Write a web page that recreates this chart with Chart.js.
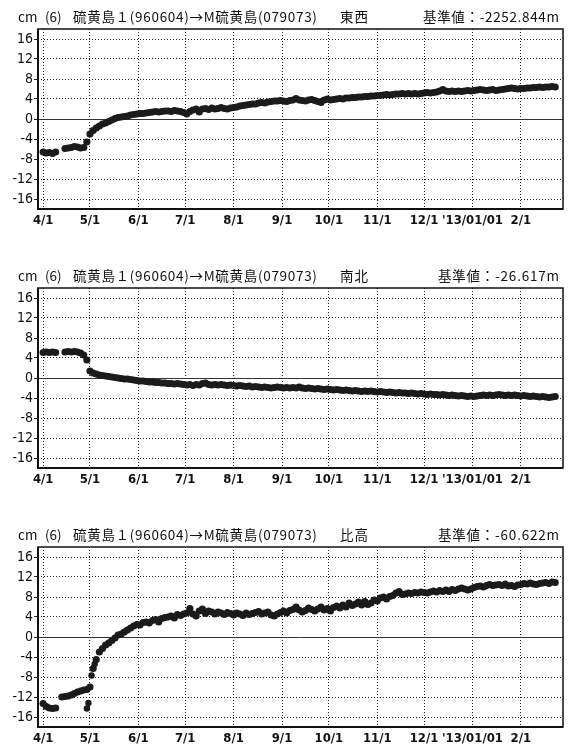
<!DOCTYPE html>
<html>
<head>
<meta charset="utf-8">
<script src="https://cdn.jsdelivr.net/npm/chart.js@4.4.1/dist/chart.umd.min.js"></script>
<style>
  html, body { margin: 0; padding: 0; background: #fff; overflow: hidden; }
  canvas { display: block; }
</style>
</head>
<body>
<canvas id="c1" width="571" height="259"></canvas>
<canvas id="c2" width="571" height="259"></canvas>
<canvas id="c3" width="571" height="259"></canvas>
<script>
// ==================== DATA ====================
// x = days since 2012/4/1, values read every 2nd day
const sampleDays = Array.from({ length: 165 }, (_, i) => i * 2);

const monthDays = [0, 30, 61, 91, 122, 153, 183, 214, 244, 275, 306];
const monthLabels = ['4/1', '5/1', '6/1', '7/1', '8/1', '9/1', '10/1', '11/1', '12/1', "'13/01/01", '2/1'];
const yTicks = [-16, -12, -8, -4, 0, 4, 8, 12, 16];

const stationLabel = '硫黄島１(960604)→M硫黄島(079073)';

// 東西 (east-west), cm
const eastWest = [
  -6.6, -6.8, -6.7, -6.9, -6.6, null, null, -5.9, -5.8, -5.7,
  -5.5, -5.6, -5.8, -5.7, -4.6, -3.0, -2.3, -1.8, -1.4, -1.0,
  -0.8, -0.5, -0.2, 0.1, 0.3, 0.4, 0.5, 0.6, 0.8, 0.9,
  1.0, 1.1, 1.1, 1.2, 1.3, 1.4, 1.5, 1.4, 1.5, 1.6,
  1.6, 1.5, 1.7, 1.6, 1.5, 1.3, 1.0, 1.5, 1.8, 2.0,
  1.4, 2.0, 2.1, 1.9, 2.2, 2.0, 2.1, 2.3, 2.1, 2.0,
  2.2, 2.3, 2.4, 2.6, 2.7, 2.8, 2.9, 3.0, 3.0, 3.2,
  3.3, 3.2, 3.4, 3.5, 3.6, 3.6, 3.7, 3.6, 3.5, 3.7,
  3.8, 4.1, 3.8, 3.7, 3.6, 3.8, 3.9, 3.7, 3.5, 3.3,
  3.8, 4.0, 3.8, 3.9, 4.0, 4.1, 4.0, 4.2, 4.2, 4.3,
  4.3, 4.4, 4.4, 4.5, 4.5, 4.6, 4.6, 4.7, 4.7, 4.8,
  4.9, 4.8, 4.9, 5.0, 5.0, 5.1, 5.0, 5.1, 5.0, 5.1,
  5.0, 5.1, 5.2, 5.3, 5.2, 5.3, 5.4, 5.6, 5.9, 5.6,
  5.5, 5.6, 5.5, 5.6, 5.5, 5.6, 5.7, 5.6, 5.7, 5.8,
  5.9, 5.8, 5.7, 5.8, 5.9, 5.7, 5.8, 5.9, 6.0, 6.1,
  6.2, 6.1, 6.0, 6.1, 6.1, 6.2, 6.2, 6.3, 6.3, 6.4,
  6.3, 6.4, 6.4, 6.5, 6.4
];

// 南北 (south-north), cm
const southNorth = [
  5.1, 5.2, 5.1, 5.2, 5.1, null, null, 5.2, 5.3, 5.2,
  5.3, 5.2, 5.0, 4.6, 3.6, 1.4, 1.0, 0.8, 0.6, 0.5,
  0.4, 0.3, 0.2, 0.1, 0.0, -0.1, -0.2, -0.2, -0.3, -0.4,
  -0.5, -0.6, -0.6, -0.7, -0.8, -0.8, -0.9, -0.9, -1.0, -1.0,
  -1.1, -1.1, -1.2, -1.1, -1.2, -1.3, -1.4, -1.3, -1.5, -1.3,
  -1.4, -1.1, -1.0, -1.3, -1.4, -1.3, -1.4, -1.3, -1.4, -1.5,
  -1.4, -1.5, -1.6, -1.5, -1.6, -1.7, -1.6, -1.8, -1.7, -1.8,
  -1.9, -1.8, -1.9, -2.0, -1.9, -1.8, -1.9, -2.0, -1.9, -2.0,
  -1.9, -2.0, -1.8, -2.0, -2.1, -2.0, -2.1, -2.2, -2.1, -2.2,
  -2.3, -2.2, -2.3, -2.4, -2.3, -2.4, -2.5, -2.4, -2.5, -2.6,
  -2.5, -2.6, -2.7, -2.6, -2.7, -2.6, -2.7, -2.8, -2.7, -2.8,
  -2.9, -2.8, -2.9, -3.0, -2.9, -3.0, -3.0, -3.1, -3.0, -3.1,
  -3.2, -3.1, -3.2, -3.3, -3.2, -3.3, -3.3, -3.4, -3.3, -3.4,
  -3.5, -3.4, -3.5, -3.6, -3.5, -3.6, -3.7, -3.6, -3.7, -3.6,
  -3.5, -3.4, -3.5, -3.4, -3.5, -3.4, -3.3, -3.4, -3.5, -3.4,
  -3.5, -3.4, -3.5, -3.6, -3.5, -3.6, -3.7, -3.6, -3.7, -3.8,
  -3.7, -3.8, -3.9, -3.8, -3.7
];

// 比高 (height), cm
const height = [
  -13.3, -13.9, -14.2, -14.3, -14.2, null, -12.0, -11.9, -11.8, -11.6,
  -11.3, -11.0, -10.8, -10.6, -10.5, -10.0, -6.3, -4.5, -3.0, -2.3,
  -1.6, -1.2, -0.7, -0.2, 0.4, 0.6, 1.0, 1.4, 1.8, 2.2,
  2.5, 2.4, 2.9, 3.0, 2.8, 3.3, 3.5, 3.0, 3.7, 3.9,
  4.0, 4.2, 3.8, 4.5, 4.3, 4.6, 4.8, 5.7, 4.6, 4.2,
  5.2, 5.6, 4.7, 5.2, 5.0, 4.6, 5.0, 4.8, 4.5, 4.9,
  4.7, 4.4, 4.8, 4.6, 4.3, 4.8, 4.5, 4.7, 4.9, 5.1,
  4.6, 4.8, 5.0, 4.4, 4.2, 4.6, 4.9, 5.2, 4.8, 5.3,
  5.5, 6.0, 5.4, 5.0, 5.3, 5.8, 5.5, 5.2, 5.6, 6.0,
  5.4, 5.7, 5.2, 5.9, 6.2, 5.8, 6.4, 6.0, 6.8, 6.3,
  6.6, 7.0, 6.4, 7.1, 6.5, 6.8, 7.4, 7.2, 7.8, 8.0,
  7.6, 8.1, 8.3, 8.8, 9.1, 8.5, 8.6, 8.8, 8.7, 8.9,
  8.8, 9.0, 8.9, 8.8, 9.0, 9.2, 9.0, 9.3, 9.1, 9.4,
  9.1, 9.5, 9.3, 9.6, 9.8, 9.6, 9.4, 9.6, 9.9, 10.1,
  10.2, 10.0, 10.3, 10.5, 10.3, 10.4, 10.5, 10.3, 10.6, 10.2,
  10.3, 10.1, 10.4, 10.5, 10.7, 10.6, 10.8, 10.6, 10.5, 10.7,
  10.8, 10.9, 10.7, 11.0, 10.9
];

// scattered extra points around the 5/1 jump in the height series
const heightExtraDays = [28, 29, 31, 33];
const heightExtraValues = [-14.3, -13.2, -7.7, -5.4];

// ==================== PLUGINS ====================
const TICK_FONT = "'Liberation Sans Narrow', 'DejaVu Sans Condensed', sans-serif";
const TITLE_FONT = "'Noto Sans CJK JP', sans-serif";

// draw text stretched with letter spacing so it spans a given width
function fillSpaced(ctx, text, x, y, width, align) {
  ctx.letterSpacing = '0px';
  const w = ctx.measureText(text).width;
  const n = [...text].length;
  const sp = Math.max(0, (width - w) / (n - 1));
  ctx.letterSpacing = sp.toFixed(2) + 'px';
  ctx.textAlign = 'left';
  const startX = align === 'right' ? x - width : x;
  ctx.fillText(text, startX, y);
  ctx.letterSpacing = '0px';
}

const framePlugin = {
  id: 'frame',
  beforeDatasetsDraw(chart) {
    const { ctx, chartArea: a, scales } = chart;
    const y0 = Math.round(scales.y.getPixelForValue(0)) + 0.5;
    ctx.save();
    ctx.strokeStyle = '#333';
    ctx.lineWidth = 1;
    ctx.beginPath();
    ctx.moveTo(a.left, y0);
    ctx.lineTo(a.right, y0);
    ctx.stroke();
    ctx.restore();
  },
  afterDatasetsDraw(chart) {
    const { ctx, chartArea: a } = chart;
    ctx.save();
    ctx.strokeStyle = '#111';
    ctx.lineWidth = 1.5;
    ctx.strokeRect(a.left, a.top, a.right - a.left, a.bottom - a.top);
    ctx.lineWidth = 2;
    ctx.beginPath();
    ctx.moveTo(a.left, a.top);
    ctx.lineTo(a.left, a.bottom);
    ctx.lineTo(a.right, a.bottom);
    ctx.stroke();
    ctx.restore();
  },
  afterDraw(chart) {
    const opts = chart.options.plugins.frame;
    const ctx = chart.ctx;
    ctx.save();
    ctx.fillStyle = '#111';
    ctx.textBaseline = 'middle';
    ctx.font = '13.5px ' + TITLE_FONT;
    ctx.textAlign = 'left';
    ctx.fillText('cm', 18, 17);
    ctx.fillText('(6)', 45, 17);
    fillSpaced(ctx, stationLabel, 73, 17, 244, 'left');
    fillSpaced(ctx, opts.comp, 340, 17, 28, 'left');
    fillSpaced(ctx, opts.ref, 559, 17, opts.refWidth, 'right');
    ctx.restore();
  }
};

// ==================== PANELS ====================
function toPoints(days, values) {
  const pts = [];
  days.forEach((d, i) => {
    if (values[i] !== null && values[i] !== undefined) pts.push({ x: d, y: values[i] });
  });
  return pts;
}

function makePanel(id, values, comp, ref, refWidth, extraDays, extraValues) {
  const ctx = document.getElementById(id).getContext('2d');
  const datasets = [{
    data: toPoints(sampleDays, values),
    backgroundColor: '#1b1b1b',
    borderWidth: 0,
    pointRadius: 3.6
  }];
  if (extraDays) {
    datasets.push({
      data: toPoints(extraDays, extraValues),
      backgroundColor: '#1b1b1b',
      borderWidth: 0,
      pointRadius: 3.2
    });
  }

  return new Chart(ctx, {
    type: 'scatter',
    data: { datasets: datasets },
    plugins: [framePlugin],
    options: {
      responsive: false,
      animation: false,
      devicePixelRatio: 1,
      events: [],
      layout: { padding: { top: 29, left: 0, right: 8, bottom: 0 } },
      plugins: {
        legend: { display: false },
        tooltip: { enabled: false },
        frame: { comp: comp, ref: ref, refWidth: refWidth }
      },
      scales: {
        x: {
          type: 'linear',
          min: -3.3,
          max: 333,
          afterBuildTicks(scale) {
            scale.ticks = monthDays.map(v => ({ value: v }));
          },
          afterFit(scale) { scale.height = 50; },
          grid: { color: '#222', lineWidth: 1, drawTicks: false },
          border: { display: false, dash: [1, 2] },
          ticks: {
            autoSkip: false,
            maxRotation: 0,
            padding: 4,
            color: '#111',
            font: { family: TICK_FONT, size: 13, weight: 'bold' },
            callback(v) {
              const i = monthDays.indexOf(v);
              return i >= 0 ? monthLabels[i] : '';
            }
          }
        },
        y: {
          min: -18,
          max: 18,
          afterBuildTicks(scale) {
            scale.ticks = yTicks.map(v => ({ value: v }));
          },
          afterFit(scale) { scale.width = 38; },
          grid: {
            color: ctx => (ctx.tick && ctx.tick.value === 0) ? 'rgba(0,0,0,0)' : '#222',
            lineWidth: 1,
            drawTicks: true,
            tickLength: 4,
            tickColor: '#222'
          },
          border: { display: false, dash: [1, 2] },
          ticks: {
            padding: 1,
            color: '#111',
            font: { family: TICK_FONT, size: 14 }
          }
        }
      }
    }
  });
}

makePanel('c1', eastWest, '東西', '基準値：-2252.844m', 136);
makePanel('c2', southNorth, '南北', '基準値：-26.617m', 121);
makePanel('c3', height, '比高', '基準値：-60.622m', 121, heightExtraDays, heightExtraValues);
</script>
</body>
</html>
